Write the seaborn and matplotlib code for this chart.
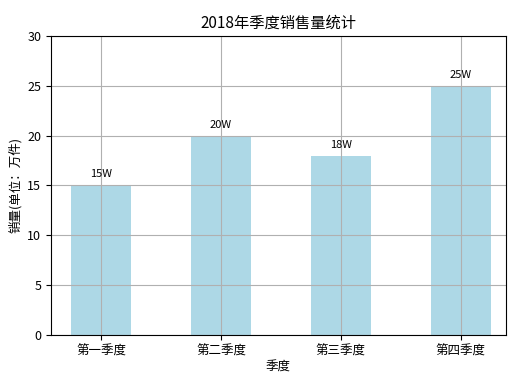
import matplotlib
matplotlib.use("Agg")
import matplotlib.pyplot as plt
import seaborn as sns

# 中文字体
plt.rcParams['font.family'] = ['Noto Sans CJK SC', 'DejaVu Sans']
plt.rcParams['axes.unicode_minus'] = False

# 数据
quarters = ['第一季度', '第二季度', '第三季度', '第四季度']
sales = [15, 20, 18, 25]
bar_labels = ['15W', '20W', '18W', '25W']

fig, ax = plt.subplots(figsize=(5.3, 3.88), dpi=100)
sns.barplot(x=quarters, y=sales, color='lightblue', saturation=1, width=0.5, ax=ax)

for i, (v, t) in enumerate(zip(sales, bar_labels)):
    ax.text(i, v + 0.6, t, ha='center', va='bottom', fontsize=8)

ax.set_xlim(-0.42, 3.38)
ax.set_ylim(0, 30)
ax.grid(True)
ax.set_title("2018年季度销售量统计", fontsize=11)
ax.set_xlabel("季度", fontsize=9, labelpad=2)
ax.set_ylabel("销量(单位：万件)", fontsize=9)
ax.tick_params(labelsize=9)

fig.subplots_adjust(left=0.096, right=0.955, top=0.907, bottom=0.137)
fig.savefig("out.png", dpi=100)
